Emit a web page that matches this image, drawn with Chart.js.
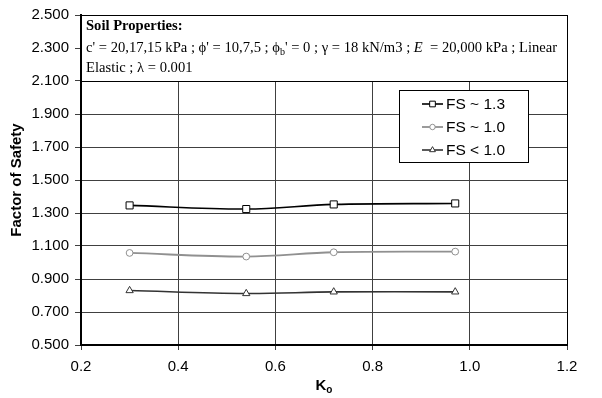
<!DOCTYPE html>
<html>
<head>
<meta charset="utf-8">
<style>
  html, body { margin: 0; padding: 0; background: #fff; }
  #wrap { width: 602px; height: 398px; }
</style>
<script src="https://cdn.jsdelivr.net/npm/chart.js@4/dist/chart.umd.min.js"></script>
</head>
<body>
<div id="wrap"><canvas id="fsChart"></canvas></div>
<script>
// data
const koValues = [0.30, 0.54, 0.72, 0.97];
const fsAbout13 = [1.346, 1.324, 1.352, 1.358];
const fsAbout10 = [1.058, 1.036, 1.062, 1.066];
const fsBelow10 = [0.830, 0.812, 0.822, 0.822];
const seriesLabels = ["FS ~ 1.3", "FS ~ 1.0", "FS < 1.0"];

const yTitle = "Factor of Safety";
const noteTitle = "Soil Properties:";
const noteBottom = 2.1; // the note box covers the plot down to this value

const serif = "'Liberation Serif', 'Times New Roman', serif";
const sans = "'Liberation Sans', Arial, sans-serif";

function toPoints(ys) {
    return ys.map((y, i) => ({ x: koValues[i], y: y }));
}

// draw a line of text made of runs (font / vertical shift)
function drawRuns(ctx, x, y, runs) {
    runs.forEach(r => {
        ctx.font = r.font;
        ctx.fillText(r.text, x, y + (r.dy || 0));
        x += ctx.measureText(r.text).width;
    });
}

const extrasPlugin = {
    id: "extras",
    beforeDatasetsDraw(chart) {
        const ctx = chart.ctx;
        const area = chart.chartArea;
        const yS = chart.scales.y;
        const yb = Math.round(yS.getPixelForValue(noteBottom)) + 0.5;

        // soil properties note
        ctx.save();
        ctx.fillStyle = "#fff";
        ctx.fillRect(area.left, area.top, area.right - area.left, yb - area.top);
        ctx.strokeStyle = "#000";
        ctx.lineWidth = 1;
        ctx.beginPath();
        ctx.moveTo(area.left, yb);
        ctx.lineTo(area.right, yb);
        ctx.stroke();

        ctx.fillStyle = "#000";
        ctx.textBaseline = "alphabetic";
        ctx.textAlign = "left";
        const nx = area.left + 5;
        const reg = "14.6px " + serif;
        drawRuns(ctx, nx, area.top + 15, [{ text: noteTitle, font: "bold 14.6px " + serif }]);
        drawRuns(ctx, nx, area.top + 37, [
            { text: "c' = 20,17,15 kPa ; \u03D5' = 10,7,5 ; \u03D5", font: reg },
            { text: "b", font: "10px " + serif, dy: 3 },
            { text: "' = 0 ; \u03B3 = 18 kN/m3 ; ", font: reg },
            { text: "E", font: "italic 14.6px " + serif },
            { text: "  = 20,000 kPa ; Linear", font: reg }
        ]);
        drawRuns(ctx, nx, area.top + 57, [{ text: "Elastic ; \u03BB = 0.001", font: reg }]);
        ctx.restore();
    },
    afterDraw(chart) {
        const ctx = chart.ctx;
        const area = chart.chartArea;
        ctx.save();

        // frame
        ctx.strokeStyle = "#000";
        ctx.lineWidth = 1;
        ctx.strokeRect(Math.round(area.left) + 0.5, Math.round(area.top) + 0.5,
            Math.round(area.right - area.left), Math.round(area.bottom - area.top));
        ctx.lineWidth = 2;
        ctx.beginPath();
        ctx.moveTo(area.left, area.top);
        ctx.lineTo(area.left, area.bottom);
        ctx.lineTo(area.right, area.bottom);
        ctx.stroke();

        // x title with subscript
        ctx.fillStyle = "#000";
        ctx.textBaseline = "alphabetic";
        ctx.font = "bold 15px " + sans;
        const wK = ctx.measureText("K").width;
        ctx.font = "bold 10px " + sans;
        const wo = ctx.measureText("o").width;
        let tx = (area.left + area.right) / 2 - (wK + wo) / 2;
        ctx.font = "bold 15px " + sans;
        ctx.fillText("K", tx, 390);
        ctx.font = "bold 10px " + sans;
        ctx.fillText("o", tx + wK, 393);

        // legend box
        const bx = area.right - 168, by = area.top + 75, bw = 129, bh = 72;
        ctx.fillStyle = "#fff";
        ctx.fillRect(bx, by, bw, bh);
        ctx.strokeStyle = "#000";
        ctx.lineWidth = 1;
        ctx.strokeRect(bx + 0.5, by + 0.5, bw, bh);
        chart.data.datasets.forEach((ds, i) => {
            const ry = by + 14 + i * 23;
            const lx0 = bx + 23, lx1 = bx + 44;
            ctx.strokeStyle = ds.borderColor;
            ctx.lineWidth = ds.borderWidth;
            ctx.beginPath();
            ctx.moveTo(lx0, ry);
            ctx.lineTo(lx1, ry);
            ctx.stroke();
            ctx.fillStyle = "#fff";
            ctx.strokeStyle = ds.pointBorderColor;
            ctx.lineWidth = 1;
            Chart.helpers.drawPoint(ctx, {
                pointStyle: ds.pointStyle,
                radius: ds.pointRadius * 0.8,
                borderWidth: 1
            }, (lx0 + lx1) / 2, ry);
            ctx.fillStyle = "#000";
            ctx.font = "15.5px " + sans;
            ctx.textBaseline = "middle";
            ctx.fillText(ds.label, lx1 + 3, ry + 1);
        });
        ctx.restore();
    }
};

const ctx = document.getElementById("fsChart").getContext("2d");

const fsChart = new Chart(ctx, {
    type: "line",
    data: {
        datasets: [
            {
                label: seriesLabels[0],
                data: toPoints(fsAbout13),
                borderColor: "#000",
                borderWidth: 1.6,
                pointStyle: "rect",
                pointRadius: 5,
                pointBackgroundColor: "#fff",
                pointBorderColor: "#000",
                pointBorderWidth: 1,
                tension: 0.35
            },
            {
                label: seriesLabels[1],
                data: toPoints(fsAbout10),
                borderColor: "#909090",
                borderWidth: 1.8,
                pointStyle: "circle",
                pointRadius: 3.4,
                pointBackgroundColor: "#fff",
                pointBorderColor: "#909090",
                pointBorderWidth: 1,
                tension: 0.35
            },
            {
                label: seriesLabels[2],
                data: toPoints(fsBelow10),
                borderColor: "#333",
                borderWidth: 1.6,
                pointStyle: "triangle",
                pointRadius: 4.2,
                pointBackgroundColor: "#fff",
                pointBorderColor: "#333",
                pointBorderWidth: 1,
                tension: 0.35
            }
        ]
    },
    options: {
        responsive: true,
        maintainAspectRatio: false,
        animation: false,
        layout: { padding: { left: 0, right: 35, top: 12, bottom: 0 } },
        scales: {
            x: {
                type: "linear",
                min: 0.2,
                max: 1.2,
                afterFit: (s) => { s.height = 53; },
                ticks: {
                    stepSize: 0.2,
                    color: "#000",
                    padding: 8,
                    font: { family: sans, size: 15 },
                    callback: (v) => v.toFixed(1)
                },
                grid: { color: "#404040", lineWidth: 1, tickLength: 5 },
                border: { color: "#000", width: 2 }
            },
            y: {
                min: 0.5,
                max: 2.5,
                afterFit: (s) => { s.width = 81; },
                ticks: {
                    stepSize: 0.2,
                    color: "#000",
                    padding: 6,
                    font: { family: sans, size: 15 },
                    callback: (v) => v.toFixed(3)
                },
                grid: { color: "#404040", lineWidth: 1, tickLength: 6 },
                border: { color: "#000", width: 2 },
                title: {
                    display: true,
                    text: yTitle,
                    color: "#000",
                    padding: { top: 8, bottom: 0 },
                    font: { family: sans, size: 15, weight: "bold" }
                }
            }
        },
        plugins: {
            legend: { display: false },
            tooltip: { enabled: false }
        }
    },
    plugins: [extrasPlugin]
});
</script>
</body>
</html>
